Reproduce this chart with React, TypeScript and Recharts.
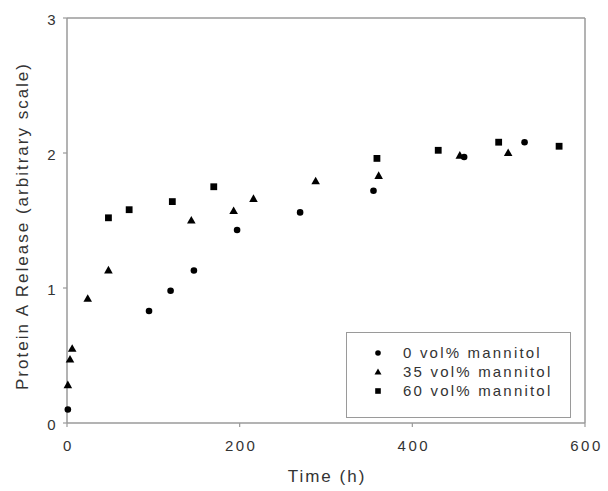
import { ScatterChart, Scatter, XAxis, YAxis, ReferenceLine, Legend, Label } from 'recharts';

// release data, one time/value pair per point
const noMannitolTime = [1, 95, 120, 147, 197, 270, 355, 460, 530];
const noMannitolRelease = [0.1, 0.83, 0.98, 1.13, 1.43, 1.56, 1.72, 1.97, 2.08];
const mannitol35Time = [1, 3.5, 6, 24, 48, 144, 193, 216, 288, 361, 455, 511];
const mannitol35Release = [0.28, 0.47, 0.55, 0.92, 1.13, 1.5, 1.57, 1.66, 1.79, 1.83, 1.98, 2.0];
const mannitol60Time = [48, 72, 122, 170, 359, 430, 500, 570];
const mannitol60Release = [1.52, 1.58, 1.64, 1.75, 1.96, 2.02, 2.08, 2.05];

const seriesNames = ['0 vol% mannitol', '35 vol% mannitol', '60 vol% mannitol'];
const timeTicks = [0, 200, 400, 600];
const releaseTicks = [0, 1, 2, 3];

const FONT = '"Liberation Sans", Arial, sans-serif';
const TEXT = '#333';
const AXIS = '#9a9a9a';

const toPoints = (xs: number[], ys: number[]) => xs.map((x, i) => ({ x, y: ys[i] }));

const Dot = ({ cx, cy }: any) => <circle cx={cx} cy={cy} r={3.3} fill="#000" />;
const Tri = ({ cx, cy }: any) => (
  <polygon points={`${cx},${cy - 4.6} ${cx - 4.3},${cy + 3} ${cx + 4.3},${cy + 3}`} fill="#000" />
);
const Sq = ({ cx, cy }: any) => <rect x={cx - 3.4} y={cy - 3.4} width={6.8} height={6.8} fill="#000" />;

const XTick = ({ x, y, payload }: any) => (
  <text x={x + 1.5} y={y} dy="0.71em" textAnchor="middle" fontSize={15} fill={TEXT}
    fontFamily={FONT} style={{ letterSpacing: 2.5 }}>
    {payload.value}
  </text>
);

const YTick = ({ x, y, payload }: any) => (
  <text x={x} y={y + 2} dy="0.355em" textAnchor="end" fontSize={15} fill={TEXT}
    fontFamily={FONT} style={{ letterSpacing: 2.5 }}>
    {payload.value}
  </text>
);

function LegendSymbol({ idx }: { idx: number }) {
  return (
    <svg width={10} height={10} style={{ position: 'absolute', left: 26, top: -5 }}>
      {idx === 0 && <circle cx={5} cy={5} r={2.8} fill="#000" />}
      {idx === 1 && <polygon points="5,1.5 1.5,7.5 8.5,7.5" fill="#000" />}
      {idx === 2 && <rect x={2.2} y={2.2} width={5.6} height={5.6} fill="#000" />}
    </svg>
  );
}

function LegendBox({ payload }: any) {
  const items = (payload || []).slice().sort(
    (a: any, b: any) => seriesNames.indexOf(a.value) - seriesNames.indexOf(b.value)
  );
  return (
    <div style={{
      width: 225, height: 86, boxSizing: 'border-box', border: `1.5px solid ${AXIS}`,
      background: '#fff', position: 'relative', fontFamily: FONT, fontSize: 15, color: TEXT,
    }}>
      {items.map((entry: any, i: number) => (
        <div key={entry.value} style={{ position: 'absolute', left: 0, top: 20 + i * 19, width: '100%' }}>
          <LegendSymbol idx={seriesNames.indexOf(entry.value)} />
          <span style={{
            position: 'absolute', left: 56, top: -9, lineHeight: '18px',
            letterSpacing: 2.2, whiteSpace: 'pre',
          }}>
            {entry.value}
          </span>
        </div>
      ))}
    </div>
  );
}

export default function App() {
  return (
    <div style={{ position: 'absolute', left: 0, top: 0, background: '#fff' }}>
      <ScatterChart width={608} height={491} margin={{ top: 18, right: 23, bottom: 0, left: 0 }}>
        <XAxis type="number" dataKey="x" domain={[0, 600]} ticks={timeTicks} height={68}
          tickSize={4} tickMargin={13} tick={<XTick />}
          axisLine={{ stroke: AXIS, strokeWidth: 1.5 }} tickLine={{ stroke: AXIS, strokeWidth: 1.2 }}>
          <Label content={(props: any) => {
            const vb = props.viewBox || { x: 67, y: 423, width: 518, height: 68 };
            return (
              <text x={vb.x + vb.width / 2 + 1} y={482} textAnchor="middle" fontSize={17}
                fill={TEXT} fontFamily={FONT} style={{ letterSpacing: 2 }}>
                Time (h)
              </text>
            );
          }} />
        </XAxis>
        <YAxis type="number" dataKey="y" domain={[0, 3]} ticks={releaseTicks} width={67}
          tickSize={4} tickMargin={5} tick={<YTick />}
          axisLine={{ stroke: AXIS, strokeWidth: 1.5 }} tickLine={{ stroke: AXIS, strokeWidth: 1.2 }}>
          <Label content={() => (
            <text x={28} y={226} transform="rotate(-90, 28, 226)" textAnchor="middle" fontSize={17}
              fill={TEXT} fontFamily={FONT} style={{ letterSpacing: 2 }}>
              Protein A Release (arbitrary scale)
            </text>
          )} />
        </YAxis>
        <ReferenceLine y={3} stroke={AXIS} strokeWidth={1.5} />
        <ReferenceLine x={600} stroke={AXIS} strokeWidth={1.5} />
        <Legend content={<LegendBox />} layout="horizontal" verticalAlign="middle" align="center"
          wrapperStyle={{ left: 346, top: 332, width: 225, height: 86 }} />
        <Scatter name={seriesNames[0]} data={toPoints(noMannitolTime, noMannitolRelease)}
          shape={<Dot />} legendType="circle" isAnimationActive={false} />
        <Scatter name={seriesNames[1]} data={toPoints(mannitol35Time, mannitol35Release)}
          shape={<Tri />} legendType="triangle" isAnimationActive={false} />
        <Scatter name={seriesNames[2]} data={toPoints(mannitol60Time, mannitol60Release)}
          shape={<Sq />} legendType="square" isAnimationActive={false} />
      </ScatterChart>
    </div>
  );
}
